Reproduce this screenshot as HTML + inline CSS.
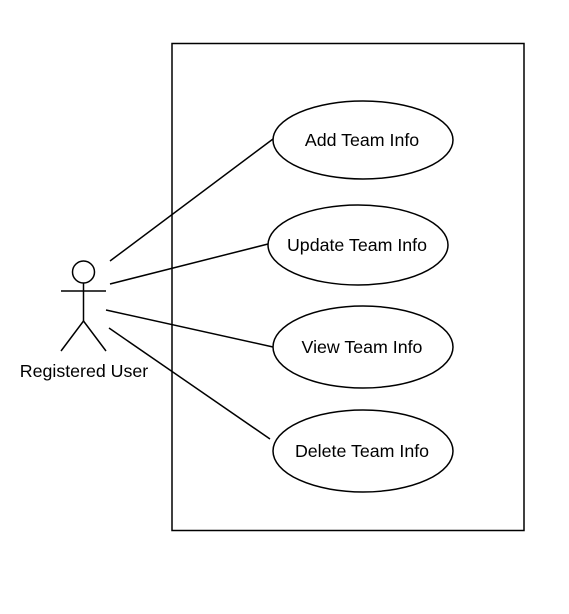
<!DOCTYPE html>
<html><head><style>body{margin:0;background:#fff}</style></head><body>
<svg width="569" height="614" xmlns="http://www.w3.org/2000/svg" style="display:block">
<rect width="569" height="614" fill="#fff"/>
<rect x="172" y="43.5" width="352" height="487" fill="none" stroke="#000" stroke-width="1.5"/>
<g stroke="#000" stroke-width="1.5" fill="none">
<line x1="110" y1="261" x2="273" y2="139"/>
<line x1="110" y1="284" x2="268" y2="244"/>
<line x1="106" y1="310" x2="273" y2="347"/>
<line x1="109" y1="328" x2="270" y2="439"/>
<circle cx="83.5" cy="272" r="11" fill="#fff"/>
<line x1="61" y1="291" x2="106" y2="291"/>
<line x1="83.5" y1="283" x2="83.5" y2="321"/>
<polyline points="61,351 83.5,321 106,351"/>
<ellipse cx="363" cy="140" rx="90" ry="39" fill="#fff"/>
<ellipse cx="358" cy="245" rx="90" ry="40" fill="#fff"/>
<ellipse cx="363" cy="347" rx="90" ry="41" fill="#fff"/>
<ellipse cx="363" cy="451" rx="90" ry="41" fill="#fff"/>
</g>
<g font-family="Liberation Sans, sans-serif" font-size="17.8" text-anchor="middle" fill="#000">
<text x="84" y="377">Registered User</text>
<text x="362" y="146">Add Team Info</text>
<text x="357" y="251">Update Team Info</text>
<text x="362" y="353">View Team Info</text>
<text x="362" y="457">Delete Team Info</text>
</g>
</svg>
</body></html>
